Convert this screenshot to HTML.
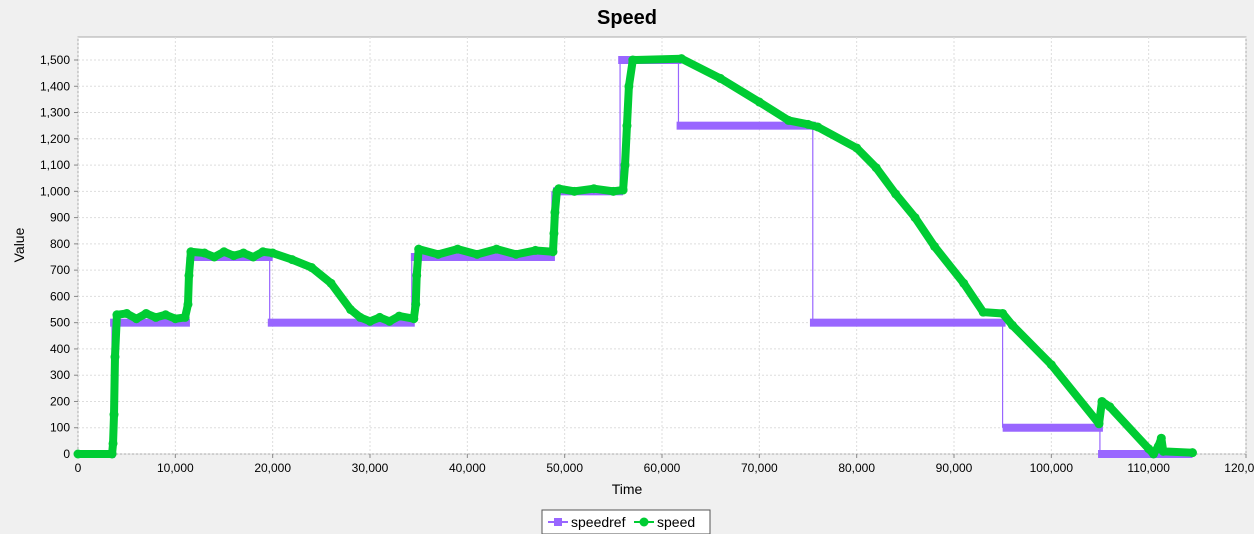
<!DOCTYPE html>
<html><head><meta charset="utf-8">
<style>
body{margin:0;background:#f0f0f0;font-family:"Liberation Sans",sans-serif;}
svg{display:block}
</style></head>
<body>
<svg width="1254" height="534" id="c">
<text x="627" y="24" text-anchor="middle" font-size="20" font-weight="bold">Speed</text>
<rect x="78" y="37" width="1168" height="417" fill="#fff" stroke="#aaa"/>
<g id="grid"></g><g id="ticks"></g><g id="series"></g>
<text x="627" y="494" text-anchor="middle" font-size="14">Time</text>
<text transform="translate(24,245) rotate(-90)" text-anchor="middle" font-size="14">Value</text>
<g>
<rect x="542" y="510" width="168" height="24" fill="#fff" stroke="#555"/>
<line x1="548" y1="522" x2="568" y2="522" stroke="#9966ff" stroke-width="2"/>
<rect x="554" y="518" width="8" height="8" fill="#9966ff"/>
<text x="571" y="527" font-size="14">speedref</text>
<line x1="634" y1="522" x2="654" y2="522" stroke="#00cc33" stroke-width="2"/>
<circle cx="644" cy="522" r="4.5" fill="#00cc33"/>
<text x="657" y="527" font-size="14">speed</text>
</g>
</svg>
<script>
const xTicks=[0,10000,20000,30000,40000,50000,60000,70000,80000,90000,100000,110000,120000];
const yTicks=[0,100,200,300,400,500,600,700,800,900,1000,1100,1200,1300,1400,1500];
const refStart=[0,3300,11300,19500,34200,48800,55500,61500,75200,95000,104800];
const refEnd=[3800,11500,20000,34600,49000,56000,62000,75800,95300,105300,114500];
const refVal=[0,500,750,500,750,1000,1500,1250,500,100,0];
const spT=[0,3500,3600,3700,3800,4000,5000,6000,7000,8000,9000,10000,11000,11300,11400,11600,13000,14000,15000,16000,17000,18000,19000,20000,22000,24000,26000,28000,29000,30000,31000,32000,33000,34500,34700,34800,35000,37000,39000,41000,43000,45000,47000,48800,48900,49000,49200,49400,51000,53000,55000,56000,56200,56400,56600,57000,62000,66000,70000,73000,75000,76000,80000,82000,84000,86000,88000,91000,93000,95000,96000,100000,104900,105200,106000,110000,110500,111000,111300,111500,114500];
const spV=[0,0,40,150,370,530,535,515,535,520,530,515,520,570,680,770,765,750,770,755,765,750,770,765,740,710,650,550,520,505,520,505,525,515,570,680,780,760,780,760,780,760,775,770,840,920,1000,1010,1000,1010,1000,1005,1100,1250,1400,1500,1505,1430,1340,1270,1255,1245,1165,1090,990,900,790,650,540,535,490,340,115,200,180,20,0,30,60,10,5];
const X=v=>78+v*(1168/120000), Y=v=>454-v*(394/1500);
const NS='http://www.w3.org/2000/svg';
function mk(tag,attrs,parent){const e=document.createElementNS(NS,tag);for(const k in attrs)e.setAttribute(k,attrs[k]);parent.appendChild(e);return e;}
const grid=document.getElementById('grid'),ticks=document.getElementById('ticks'),ser=document.getElementById('series');
xTicks.forEach(t=>{
 const g=mk('line',{x1:X(t),x2:X(t),y1:37,y2:454,stroke:'#ddd','stroke-dasharray':'2,2'},grid);
 
 
 mk('line',{x1:X(t),x2:X(t),y1:454,y2:458,stroke:'#888'},ticks);
 const l=mk('text',{x:X(t),y:472,'text-anchor':'middle','font-size':12},ticks);
 l.textContent=t.toLocaleString('en-US');
 
 
});
yTicks.forEach(t=>{
 const g=mk('line',{x1:78,x2:1246,y1:Y(t),y2:Y(t),stroke:'#ddd','stroke-dasharray':'2,2'},grid);
 
 
 mk('line',{x1:74,x2:78,y1:Y(t),y2:Y(t),stroke:'#888'},ticks);
 const l=mk('text',{x:70,y:Y(t)+4,'text-anchor':'end','font-size':12},ticks);
 l.textContent=t.toLocaleString('en-US');
 
 
});
// speedref step: vertical connectors at end of each segment
refVal.forEach((v,i)=>{
 if(i<refVal.length-1){
  const xe=X(refEnd[i])-3;
  const vl=mk('line',{x1:xe,x2:xe,y1:Y(v),y2:Y(refVal[i+1]),stroke:'#9966ff','stroke-width':1.2},ser);
  
  
 }
 const r=mk('rect',{x:X(refStart[i]),y:Y(v)-4,width:X(refEnd[i])-X(refStart[i]),height:8,fill:'#9966ff'},ser);
 
 
});
// speed
const pts=spT.map((t,i)=>X(t)+','+Y(spV[i])).join(' ');
const sl=mk('polyline',{points:pts,fill:'none',stroke:'#00cc33','stroke-width':8,'stroke-linejoin':'round','stroke-linecap':'round'},ser);


spT.forEach((t,i)=>{
 const c=mk('circle',{cx:X(t),cy:Y(spV[i]),r:4.5,fill:'#00cc33'},ser);
 
 
});
</script>
</body></html>
